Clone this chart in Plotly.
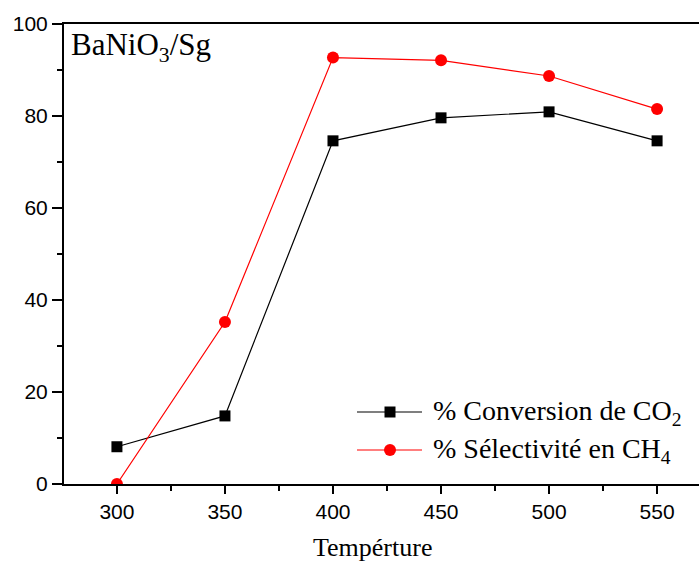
import plotly.graph_objects as go

# Reaction temperature (°C)
temperature = [300, 350, 400, 450, 500, 550]
# CO2 conversion (%)
co2_conversion = [8.1, 14.8, 74.6, 79.6, 80.9, 74.6]
# CH4 selectivity (%)
ch4_selectivity = [0.0, 35.2, 92.7, 92.1, 88.7, 81.5]

series_names = ["% Conversion de CO<sub>2</sub>", "% Sélectivité en CH<sub>4</sub>"]
x_ticks = [300, 350, 400, 450, 500, 550]
y_ticks = [0, 20, 40, 60, 80, 100]

W, H = 699, 561
ML, MR, MT, MB = 64, 0, 24, 77
PW, PH = W - ML - MR, H - MT - MB


def px_x(p):
    return (p - ML) / PW


def px_y(p):
    return (MT + PH - p) / PH


fig = go.Figure()
fig.add_trace(go.Scatter(
    x=temperature, y=co2_conversion, mode="lines+markers",
    line=dict(color="black", width=1.2),
    marker=dict(symbol="square", size=11, color="black"),
    showlegend=False, cliponaxis=True))
fig.add_trace(go.Scatter(
    x=temperature, y=ch4_selectivity, mode="lines+markers",
    line=dict(color="#ff0000", width=1.2),
    marker=dict(symbol="circle", size=12, color="#ff0000"),
    showlegend=False, cliponaxis=True))

axis_font = dict(family="Liberation Sans, Arial", size=21, color="black")
fig.update_xaxes(
    range=[275.5, 569.4], tickvals=x_ticks, showgrid=False, zeroline=False,
    showline=True, linecolor="black", linewidth=2, mirror=True,
    ticks="outside", ticklen=8, tickwidth=1.5, tickcolor="black",
    tickfont=axis_font,
    minor=dict(tickvals=[325, 375, 425, 475, 525], ticks="outside",
               ticklen=5, tickwidth=1.5, tickcolor="black"))
fig.update_yaxes(
    range=[0, 100], tickvals=y_ticks, showgrid=False, zeroline=False,
    showline=True, linecolor="black", linewidth=2,
    ticks="outside", ticklen=10, tickwidth=1.5, tickcolor="black",
    tickfont=axis_font,
    minor=dict(tickvals=[10, 30, 50, 70, 90], ticks="outside",
               ticklen=5, tickwidth=1.5, tickcolor="black"))

serif = "Liberation Serif, Times New Roman"
annotations = [
    dict(text="Tempérture", x=px_x(372), y=px_y(547), xref="paper", yref="paper",
         xanchor="center", yanchor="middle", showarrow=False,
         font=dict(family=serif, size=26, color="black")),
    dict(text="BaNiO<sub>3</sub>/Sg", x=px_x(69), y=px_y(47), xref="paper", yref="paper",
         xanchor="left", yanchor="middle", showarrow=False,
         font=dict(family=serif, size=31, color="black")),
]

shapes = []
legend_rows = [(412, "black", "square"), (450, "#ff0000", "circle")]
for (row_y, color, sym), name in zip(legend_rows, series_names):
    shapes.append(dict(type="line", xref="paper", yref="paper",
                       x0=px_x(357), x1=px_x(422), y0=px_y(row_y), y1=px_y(row_y),
                       line=dict(color=color, width=1.2)))
    half = 5.5 if sym == "square" else 6
    shapes.append(dict(type="rect" if sym == "square" else "circle",
                       xref="paper", yref="paper",
                       xsizemode="pixel", ysizemode="pixel",
                       xanchor=px_x(390), yanchor=px_y(row_y),
                       x0=-half, x1=half, y0=-half, y1=half,
                       fillcolor=color, line=dict(width=0)))
    annotations.append(dict(text=name, x=px_x(431), y=px_y(row_y), xref="paper", yref="paper",
                            xanchor="left", yanchor="middle", showarrow=False,
                            font=dict(family=serif, size=28, color="black")))

fig.update_layout(
    width=W, height=H, margin=dict(l=ML, r=MR, t=MT, b=MB, pad=0),
    plot_bgcolor="white", paper_bgcolor="white",
    annotations=annotations, shapes=shapes)

fig.write_html("out.html")
